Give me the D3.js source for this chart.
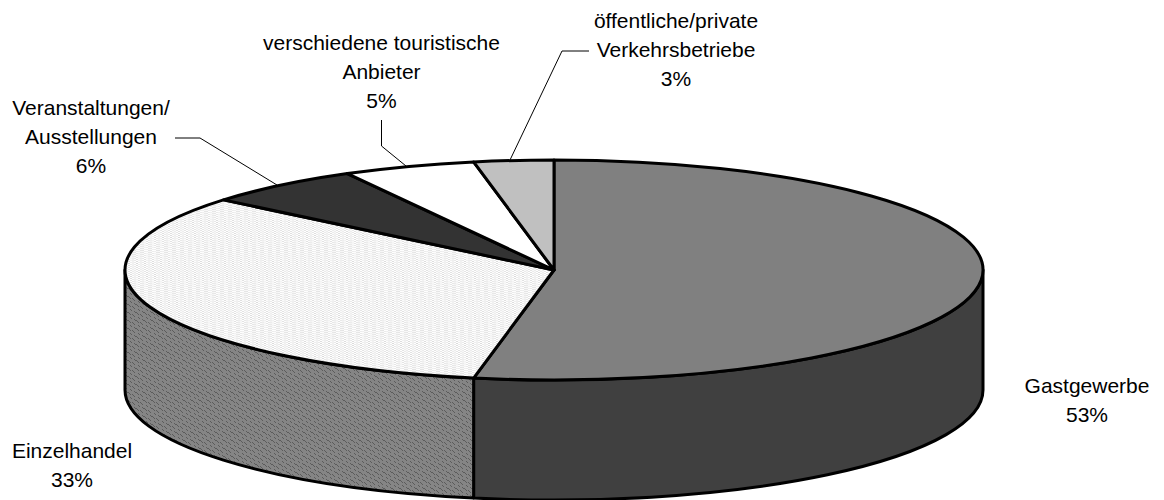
<!DOCTYPE html>
<html>

<head>
    <meta charset="utf-8">
    <style>
        body {
            margin: 0;
            background: #fff;
        }

        svg {
            display: block;
        }

        text {
            font-family: "Liberation Sans", Arial, sans-serif;
            font-size: 21px;
            fill: #000;
            text-anchor: middle;
        }
    </style>
</head>

<body>
    <svg width="1164" height="500"></svg>
</body>

<script src="https://d3js.org/d3.v7.min.js"></script>

<script>
    // values, clockwise from 12 o'clock
    let categories = ["Gastgewerbe", "Einzelhandel", "Veranstaltungen/ Ausstellungen", "verschiedene touristische Anbieter", "öffentliche/private Verkehrsbetriebe"]
    let shares = [53, 33, 6, 5, 3]
    let topFills = ["#808080", "url(#dotsLight)", "#333333", "#ffffff", "#c0c0c0"]
    let sideFills = ["#404040", "url(#dotsDark)", "#1a1a1a", "#808080", "#606060"]

    let labelLines = [
        ["Gastgewerbe", "53%"],
        ["Einzelhandel", "33%"],
        ["Veranstaltungen/", "Ausstellungen", "6%"],
        ["verschiedene touristische", "Anbieter", "5%"],
        ["öffentliche/private", "Verkehrsbetriebe", "3%"]
    ]
    let labelX = [1087, 72, 91, 381.5, 676]
    let labelY = [393, 458, 115, 50, 28]

    let leaderLines = [
        [],
        [],
        [[175, 138], [200, 138], [277, 185]],
        [[381.5, 120], [381.5, 146], [406, 166]],
        [[589, 51], [562, 51], [510, 160]]
    ]

    let svg = d3.select("svg")

    let cx = 554
    let cy = 270
    let rx = 429
    let ry = 110
    let depth = 120

    // the two dither fills
    let defs = svg.append("defs")

    function dither(id, base, dot, cells) {
        let p = defs.append("pattern")
            .attr("id", id)
            .attr("width", 8)
            .attr("height", 8)
            .attr("patternUnits", "userSpaceOnUse")
        p.append("rect").attr("width", 8).attr("height", 8).attr("fill", base)
        p.selectAll("rect.dot")
            .data(cells)
            .join("rect")
            .attr("class", "dot")
            .attr("x", d => d[0])
            .attr("y", d => d[1])
            .attr("width", 1)
            .attr("height", 1)
            .attr("fill", dot)
    }

    let lightCells = [[0, 0], [1, 1], [0, 1], [1, 0], [4, 2], [5, 3], [4, 3], [5, 2], [2, 4], [3, 5], [2, 5], [3, 4], [6, 6], [7, 7], [6, 7], [7, 6]]
    let darkCells = [[0, 0], [1, 1], [2, 2], [4, 2], [5, 3], [6, 4], [2, 5], [3, 6], [6, 7], [7, 0]]
    dither("dotsLight", "#ffffff", "#c4c4c4", lightCells)
    dither("dotsDark", "#858585", "#5c5c5c", darkCells)

    let slices = d3.pie().sort(null).value(d => d)(shares)

    // pie angle -> point on the squashed top ellipse
    function px(a) { return cx + rx * Math.sin(a) }
    function py(a) { return cy - ry * Math.cos(a) }

    // side wall only shows on the front half of the ellipse
    slices.forEach((s, i) => {
        let a0 = Math.max(s.startAngle, Math.PI / 2)
        let a1 = Math.min(s.endAngle, Math.PI * 1.5)
        if (a1 <= a0) return
        let d = `M${px(a0)},${py(a0)}`
            + `A${rx},${ry} 0 0 1 ${px(a1)},${py(a1)}`
            + `L${px(a1)},${py(a1) + depth}`
            + `A${rx},${ry} 0 0 0 ${px(a0)},${py(a0) + depth}Z`
        svg.append("path")
            .attr("d", d)
            .attr("fill", sideFills[i])
            .attr("stroke", "#000")
            .attr("stroke-width", 3)
            .attr("stroke-linejoin", "round")
    })

    // top of the pie, a circular arc squashed into an ellipse
    let arc = d3.arc().innerRadius(0).outerRadius(rx)

    svg.append("g")
        .attr("transform", `translate(${cx},${cy}) scale(1,${ry / rx})`)
        .selectAll("path")
        .data(slices)
        .join("path")
        .attr("d", arc)
        .attr("fill", (d, i) => topFills[i])
        .attr("stroke", "#000")
        .attr("stroke-width", 3)
        .attr("stroke-linejoin", "round")
        .attr("vector-effect", "non-scaling-stroke")

    // leader lines
    let line = d3.line()
    svg.append("g")
        .selectAll("path")
        .data(leaderLines.filter(d => d.length > 0))
        .join("path")
        .attr("d", line)
        .attr("fill", "none")
        .attr("stroke", "#000")
        .attr("stroke-width", 1)

    // labels
    let labels = svg.append("g")
        .selectAll("text")
        .data(labelLines)
        .join("text")
        .attr("transform", (d, i) => `translate(${labelX[i]},${labelY[i]})`)

    labels.selectAll("tspan")
        .data(d => d)
        .join("tspan")
        .attr("x", 0)
        .attr("y", (d, i) => i * 29)
        .text(d => d)
</script>

</html>
